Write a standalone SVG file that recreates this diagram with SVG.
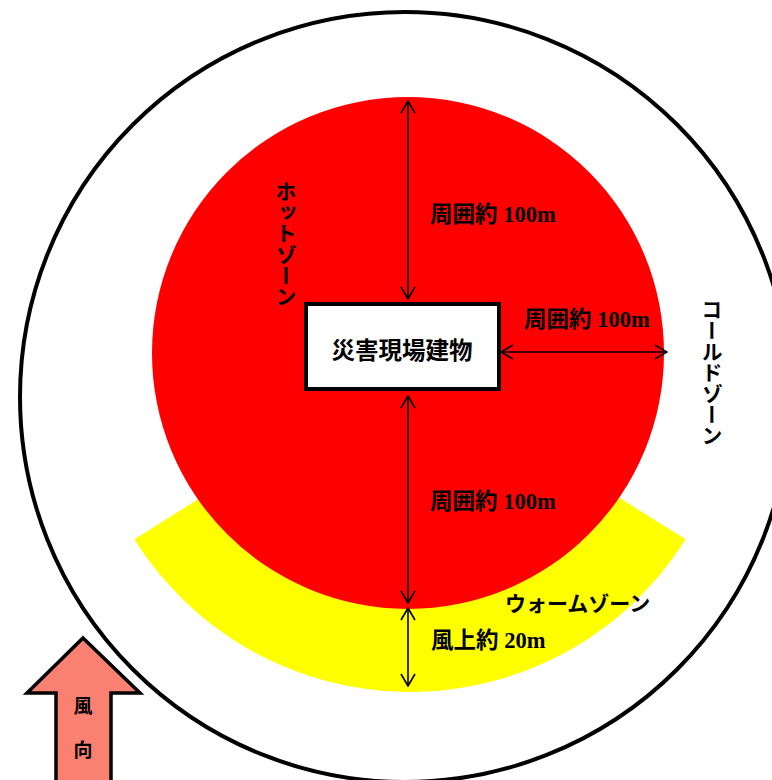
<svg xmlns="http://www.w3.org/2000/svg" width="772" height="780" viewBox="0 0 772 780">
<defs>
<marker id="ah" viewBox="0 0 14 16" refX="13" refY="8" markerWidth="14" markerHeight="16" markerUnits="userSpaceOnUse" orient="auto-start-reverse">
<path d="M1,1 L13,8 L1,15" fill="none" stroke="#000" stroke-width="1.6"/>
</marker>
<style>
.lbl{font-family:"Liberation Serif","Noto Sans CJK JP",serif;font-weight:bold;font-size:22.5px;fill:#000}
.vt{font-family:"Noto Sans CJK JP",sans-serif;font-weight:bold;font-size:21px;fill:#000;writing-mode:vertical-rl}
.conn{stroke:#000;stroke-width:1.6;fill:none}
</style>
</defs>
<rect width="772" height="780" fill="#fff"/>
<g id="cold-zone">
<circle cx="405" cy="397" r="385" fill="#fff" stroke="#000" stroke-width="4"/>
<text class="vt" x="712" y="299">コールドゾーン</text>
</g>
<g id="warm-zone">
<path d="M410,367 L685.6,539.2 A325,325 0 0 1 134.4,539.2 Z" fill="#ffff00"/>
<text class="lbl" x="505" y="611" style="font-family:'Noto Sans CJK JP',sans-serif;font-size:21px">ウォームゾーン</text>
</g>
<g id="hot-zone">
<circle cx="408" cy="353" r="256" fill="#ff0000"/>
<text class="vt" x="286" y="181">ホットゾーン</text>
</g>
<g id="building">
<rect x="306" y="304" width="193" height="85" fill="#fff" stroke="#000" stroke-width="4"/>
<text x="402" y="359" text-anchor="middle" style="font-family:'Noto Sans CJK JP',sans-serif;font-weight:bold;font-size:23.5px">災害現場建物</text>
</g>
<g id="connectors">
<line class="conn" x1="408" y1="101" x2="408" y2="299" marker-start="url(#ah)" marker-end="url(#ah)"/>
<line class="conn" x1="501" y1="352" x2="667" y2="352" marker-start="url(#ah)" marker-end="url(#ah)"/>
<line class="conn" x1="408" y1="396" x2="408" y2="603" marker-start="url(#ah)" marker-end="url(#ah)"/>
<line class="conn" x1="408" y1="608" x2="408" y2="686" marker-start="url(#ah)" marker-end="url(#ah)"/>
</g>
<g id="labels">
<text class="lbl" x="430" y="222">周囲約 100m</text>
<text class="lbl" x="524" y="327">周囲約 100m</text>
<text class="lbl" x="430" y="509">周囲約 100m</text>
<text class="lbl" x="431" y="648">風上約 20m</text>
</g>
<g id="wind-arrow">
<polygon points="83,638 140,693 111,693 111,790 56,790 56,693 27,693" fill="#fa8072" stroke="#000" stroke-width="3.5" stroke-linejoin="miter"/>
<text x="83" y="713" text-anchor="middle" style="font-family:'Noto Sans CJK JP',sans-serif;font-weight:bold;font-size:19px">風</text>
<text x="83" y="757" text-anchor="middle" style="font-family:'Noto Sans CJK JP',sans-serif;font-weight:bold;font-size:19px">向</text>
</g>
</svg>
